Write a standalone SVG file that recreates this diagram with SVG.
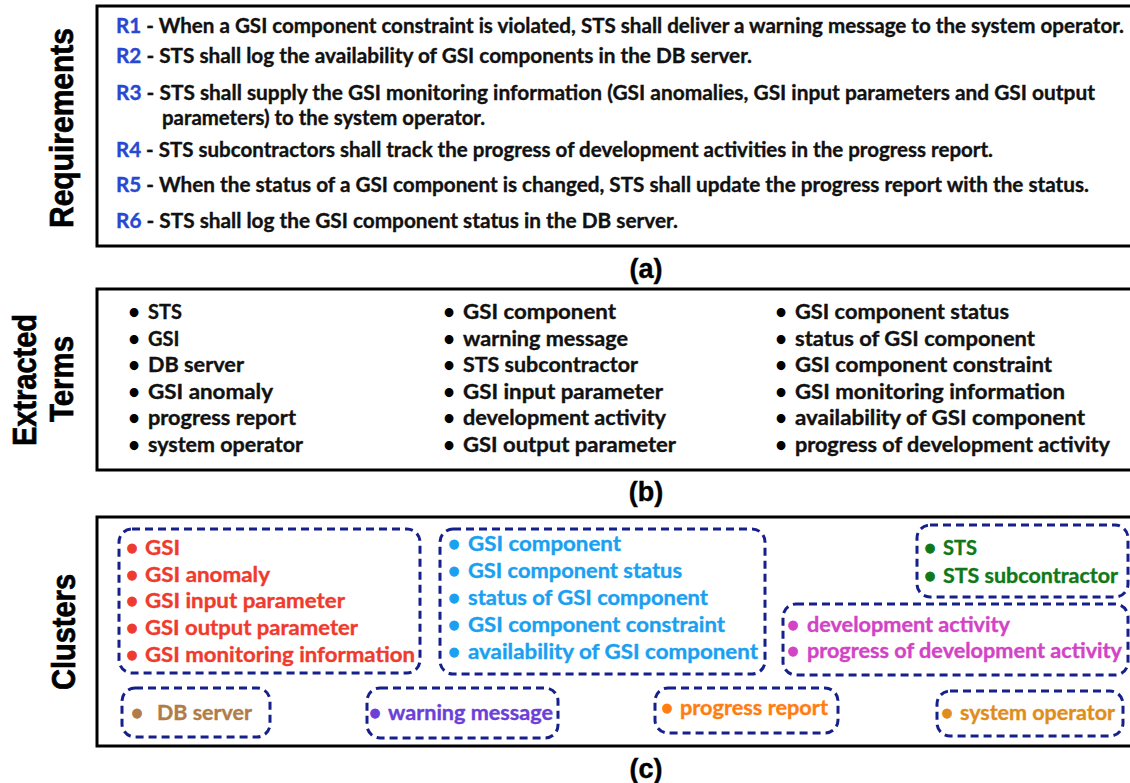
<svg xmlns="http://www.w3.org/2000/svg" width="1130" height="783" viewBox="0 0 1130 783">
  <style>
    .panel { fill: #ffffff; stroke: #000000; stroke-width: 3; }
    .side { font-family: "Liberation Sans", Arial, sans-serif; font-weight: 700; font-size: 33px; fill: #000000; stroke: #000000; stroke-width: 0.7; text-anchor: middle; }
    .cap { font-family: "Liberation Sans", Arial, sans-serif; font-weight: 700; font-size: 27px; fill: #000000; stroke: #000000; stroke-width: 0.4; text-anchor: middle; }
    .t { font-family: Lato, "Open Sans", sans-serif; font-weight: 700; font-size: 20px; fill: #111111; stroke: #111111; stroke-width: 0.35; }
    .rid { fill: #2848d2; stroke: #2848d2; }
    .dot { font-family: Lato, "Open Sans", sans-serif; font-weight: 700; font-size: 20px; text-anchor: middle; }
    .grp { fill: none; stroke: #15208a; stroke-width: 3; stroke-dasharray: 8 5; }
    .red { fill: #ef3b2d; stroke: #ef3b2d; }
    .sky { fill: #1aa0f0; stroke: #1aa0f0; }
    .grn { fill: #107818; stroke: #107818; }
    .mag { fill: #d243c6; stroke: #d243c6; }
    .brn { fill: #b07c48; stroke: #b07c48; }
    .pur { fill: #6a40d6; stroke: #6a40d6; }
    .org { fill: #ff7d12; stroke: #ff7d12; }
    .gld { fill: #df8d1c; stroke: #df8d1c; }
  </style>
  <rect width="1130" height="783" fill="#ffffff"/>

  <!-- (a) requirements -->
  <g id="requirements">
    <rect class="panel" x="97" y="6" width="1050" height="240"/>
    <text class="side" transform="translate(73,128) rotate(-90)" textLength="200" lengthAdjust="spacingAndGlyphs">Requirements</text>
    <text class="t" x="116" y="33" textLength="1008" lengthAdjust="spacingAndGlyphs"><tspan class="rid">R1</tspan> - When a GSI component constraint is violated, STS shall deliver a warning message to the system operator.</text>
    <text class="t" x="116" y="63" textLength="636" lengthAdjust="spacingAndGlyphs"><tspan class="rid">R2</tspan> - STS shall log the availability of GSI components in the DB server.</text>
    <text class="t" x="116" y="100" textLength="979" lengthAdjust="spacingAndGlyphs"><tspan class="rid">R3</tspan> - STS shall supply the GSI monitoring information (GSI anomalies, GSI input parameters and GSI output</text>
    <text class="t" x="162" y="125" textLength="323" lengthAdjust="spacingAndGlyphs">parameters) to the system operator.</text>
    <text class="t" x="116" y="157" textLength="877" lengthAdjust="spacingAndGlyphs"><tspan class="rid">R4</tspan> - STS subcontractors shall track the progress of development activities in the progress report.</text>
    <text class="t" x="116" y="192" textLength="973" lengthAdjust="spacingAndGlyphs"><tspan class="rid">R5</tspan> - When the status of a GSI component is changed, STS shall update the progress report with the status.</text>
    <text class="t" x="116" y="228" textLength="562" lengthAdjust="spacingAndGlyphs"><tspan class="rid">R6</tspan> - STS shall log the GSI component status in the DB server.</text>
    <text class="cap" x="646" y="278">(a)</text>
  </g>

  <!-- (b) extracted terms -->
  <g id="terms">
    <rect class="panel" x="97" y="289" width="1050" height="181"/>
    <text class="side" transform="translate(36,380) rotate(-90)" textLength="132" lengthAdjust="spacingAndGlyphs">Extracted</text>
    <text class="side" transform="translate(73,379) rotate(-90)" textLength="86" lengthAdjust="spacingAndGlyphs">Terms</text>
    <g id="terms-col1">
      <text class="dot" x="134" y="319">•</text><text class="t" x="148" y="319">STS</text>
      <text class="dot" x="134" y="346">•</text><text class="t" x="148" y="346">GSI</text>
      <text class="dot" x="134" y="372">•</text><text class="t" x="148" y="372" textLength="96" lengthAdjust="spacingAndGlyphs">DB server</text>
      <text class="dot" x="134" y="399">•</text><text class="t" x="148" y="399" textLength="125" lengthAdjust="spacingAndGlyphs">GSI anomaly</text>
      <text class="dot" x="134" y="425">•</text><text class="t" x="148" y="425" textLength="148" lengthAdjust="spacingAndGlyphs">progress report</text>
      <text class="dot" x="134" y="452">•</text><text class="t" x="148" y="452" textLength="155" lengthAdjust="spacingAndGlyphs">system operator</text>
    </g>
    <g id="terms-col2">
      <text class="dot" x="449" y="319">•</text><text class="t" x="463" y="319" textLength="153" lengthAdjust="spacingAndGlyphs">GSI component</text>
      <text class="dot" x="449" y="346">•</text><text class="t" x="463" y="346" textLength="165" lengthAdjust="spacingAndGlyphs">warning message</text>
      <text class="dot" x="449" y="372">•</text><text class="t" x="463" y="372" textLength="175" lengthAdjust="spacingAndGlyphs">STS subcontractor</text>
      <text class="dot" x="449" y="399">•</text><text class="t" x="463" y="399" textLength="200" lengthAdjust="spacingAndGlyphs">GSI input parameter</text>
      <text class="dot" x="449" y="425">•</text><text class="t" x="463" y="425" textLength="203" lengthAdjust="spacingAndGlyphs">development activity</text>
      <text class="dot" x="449" y="452">•</text><text class="t" x="463" y="452" textLength="213" lengthAdjust="spacingAndGlyphs">GSI output parameter</text>
    </g>
    <g id="terms-col3">
      <text class="dot" x="781" y="319">•</text><text class="t" x="795" y="319" textLength="214" lengthAdjust="spacingAndGlyphs">GSI component status</text>
      <text class="dot" x="781" y="346">•</text><text class="t" x="795" y="346" textLength="240" lengthAdjust="spacingAndGlyphs">status of GSI component</text>
      <text class="dot" x="781" y="372">•</text><text class="t" x="795" y="372" textLength="257" lengthAdjust="spacingAndGlyphs">GSI component constraint</text>
      <text class="dot" x="781" y="399">•</text><text class="t" x="795" y="399" textLength="270" lengthAdjust="spacingAndGlyphs">GSI monitoring information</text>
      <text class="dot" x="781" y="425">•</text><text class="t" x="795" y="425" textLength="290" lengthAdjust="spacingAndGlyphs">availability of GSI component</text>
      <text class="dot" x="781" y="452">•</text><text class="t" x="795" y="452" textLength="315" lengthAdjust="spacingAndGlyphs">progress of development activity</text>
    </g>
    <text class="cap" x="646" y="501">(b)</text>
  </g>

  <!-- (c) clusters -->
  <g id="clusters">
    <rect class="panel" x="97" y="517" width="1050" height="229"/>
    <text class="side" transform="translate(75,632) rotate(-90)" textLength="116" lengthAdjust="spacingAndGlyphs">Clusters</text>

    <g id="cluster-gsi">
      <rect class="grp" x="119" y="529" width="301" height="144" rx="13"/>
      <text class="dot red" x="132" y="555">•</text><text class="t red" x="145" y="555" textLength="35" lengthAdjust="spacingAndGlyphs">GSI</text>
      <text class="dot red" x="132" y="582">•</text><text class="t red" x="145" y="582" textLength="125" lengthAdjust="spacingAndGlyphs">GSI anomaly</text>
      <text class="dot red" x="132" y="608">•</text><text class="t red" x="145" y="608" textLength="200" lengthAdjust="spacingAndGlyphs">GSI input parameter</text>
      <text class="dot red" x="132" y="635">•</text><text class="t red" x="145" y="635" textLength="213" lengthAdjust="spacingAndGlyphs">GSI output parameter</text>
      <text class="dot red" x="132" y="662">•</text><text class="t red" x="145" y="662" textLength="270" lengthAdjust="spacingAndGlyphs">GSI monitoring information</text>
    </g>

    <g id="cluster-component">
      <rect class="grp" x="440" y="529" width="325" height="145" rx="13"/>
      <text class="dot sky" x="454" y="551">•</text><text class="t sky" x="468" y="551" textLength="153" lengthAdjust="spacingAndGlyphs">GSI component</text>
      <text class="dot sky" x="454" y="578">•</text><text class="t sky" x="468" y="578" textLength="214" lengthAdjust="spacingAndGlyphs">GSI component status</text>
      <text class="dot sky" x="454" y="605">•</text><text class="t sky" x="468" y="605" textLength="240" lengthAdjust="spacingAndGlyphs">status of GSI component</text>
      <text class="dot sky" x="454" y="632">•</text><text class="t sky" x="468" y="632" textLength="257" lengthAdjust="spacingAndGlyphs">GSI component constraint</text>
      <text class="dot sky" x="454" y="659">•</text><text class="t sky" x="468" y="659" textLength="290" lengthAdjust="spacingAndGlyphs">availability of GSI component</text>
    </g>

    <g id="cluster-sts">
      <rect class="grp" x="917" y="525" width="211" height="72" rx="13"/>
      <text class="dot grn" x="930" y="555">•</text><text class="t grn" x="943" y="555" textLength="34" lengthAdjust="spacingAndGlyphs">STS</text>
      <text class="dot grn" x="930" y="583">•</text><text class="t grn" x="943" y="583" textLength="175" lengthAdjust="spacingAndGlyphs">STS subcontractor</text>
    </g>

    <g id="cluster-development">
      <rect class="grp" x="783" y="604" width="345" height="71" rx="13"/>
      <text class="dot mag" x="793" y="632">•</text><text class="t mag" x="807" y="632" textLength="203" lengthAdjust="spacingAndGlyphs">development activity</text>
      <text class="dot mag" x="793" y="658">•</text><text class="t mag" x="807" y="658" textLength="315" lengthAdjust="spacingAndGlyphs">progress of development activity</text>
    </g>

    <g id="cluster-db">
      <rect class="grp" x="122" y="688" width="148" height="49" rx="13"/>
      <text class="dot brn" x="137" y="720">•</text><text class="t brn" x="157" y="720" textLength="95" lengthAdjust="spacingAndGlyphs">DB server</text>
    </g>

    <g id="cluster-warning">
      <rect class="grp" x="367" y="688" width="191" height="50" rx="13"/>
      <text class="dot pur" x="375" y="720">•</text><text class="t pur" x="388" y="720" textLength="165" lengthAdjust="spacingAndGlyphs">warning message</text>
    </g>

    <g id="cluster-report">
      <rect class="grp" x="655" y="688" width="183" height="45" rx="13"/>
      <text class="dot org" x="667" y="715">•</text><text class="t org" x="680" y="715" textLength="148" lengthAdjust="spacingAndGlyphs">progress report</text>
    </g>

    <g id="cluster-operator">
      <rect class="grp" x="937" y="691" width="186" height="45" rx="13"/>
      <text class="dot gld" x="947" y="720">•</text><text class="t gld" x="960" y="720" textLength="155" lengthAdjust="spacingAndGlyphs">system operator</text>
    </g>

    <text class="cap" x="646" y="778">(c)</text>
  </g>

  <!-- no connectors in this figure -->
  <g id="connectors"/>
</svg>
